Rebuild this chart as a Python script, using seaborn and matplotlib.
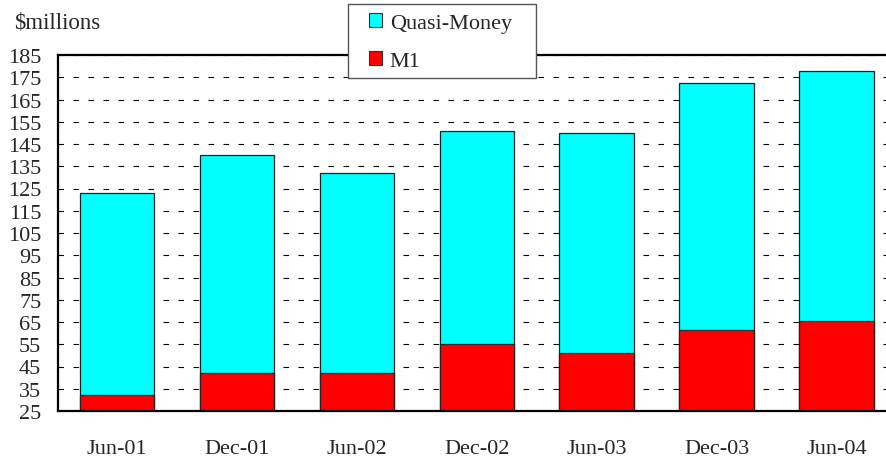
import numpy as np
import pandas as pd
import matplotlib
matplotlib.use("Agg")
import matplotlib.pyplot as plt
from matplotlib.patches import Patch, Rectangle
import seaborn as sns

# values ($ millions)
periods = ["Jun-01", "Dec-01", "Jun-02", "Dec-02", "Jun-03", "Dec-03", "Jun-04"]
m1 = [32, 42, 42, 55, 51, 61.5, 65.5]
quasi_money = [91, 98, 90, 96, 99, 111, 112.5]
y_ticks = list(range(25, 186, 10))

df = pd.DataFrame({"period": periods, "M1": m1, "Quasi-Money": quasi_money})
df["total"] = df["M1"] + df["Quasi-Money"]

sns.set_style("white")
plt.rcParams["font.family"] = ["Liberation Serif", "DejaVu Serif"]

W, H = 887, 460
fig = plt.figure(figsize=(W / 100, H / 100), dpi=100)
ax = fig.add_axes([58 / W, (H - 412) / H, (W - 58) / W, (412 - 56) / H])

cyan, red = "#00FFFF", "#FF0000"
bar_w = 0.62
sns.barplot(data=df, x="period", y="total", color=cyan, saturation=1,
            width=bar_w, edgecolor="#222222", linewidth=0.9, ax=ax)
sns.barplot(data=df, x="period", y="M1", color=red, saturation=1,
            width=bar_w, edgecolor="#222222", linewidth=0.9, ax=ax)

ax.set_ylim(25, 185)
ax.set_xlim(-0.49, 6.42)
ax.set_yticks(y_ticks)
ax.set_xlabel("")
ax.set_ylabel("")
ax.tick_params(axis="y", length=0, pad=12, labelsize=16)
ax.tick_params(axis="x", length=0, pad=20, labelsize=16)

ax.set_axisbelow(True)
ax.yaxis.grid(True, color="black", linestyle=(0, (5, 8.5)), linewidth=0.8)

for side in ["left", "top", "bottom"]:
    ax.spines[side].set_visible(True)
    ax.spines[side].set_color("black")
    ax.spines[side].set_linewidth(1.6)
ax.spines["right"].set_visible(False)

fig.text(14 / W, 1 - 28 / H, "$millions", fontsize=16.5, va="baseline", ha="left")

# legend box
fig.patches.append(Rectangle((348 / W, 1 - 79 / H), 188 / W, 74 / H,
                             transform=fig.transFigure, facecolor="white",
                             edgecolor="#555555", linewidth=1.0, zorder=3))
handles = [Patch(facecolor=cyan, edgecolor="#333333", linewidth=0.8, label="Quasi-Money"),
           Patch(facecolor=red, edgecolor="#333333", linewidth=0.8, label="M1")]
fig.legend(handles=handles, loc="upper left", bbox_to_anchor=(369 / W, 1 - 14 / H),
           frameon=False, fontsize=16, handlelength=0.58, handleheight=0.58,
           handletextpad=0.35, labelspacing=0.82, borderpad=0, borderaxespad=0)

fig.savefig("out.png", dpi=100)
